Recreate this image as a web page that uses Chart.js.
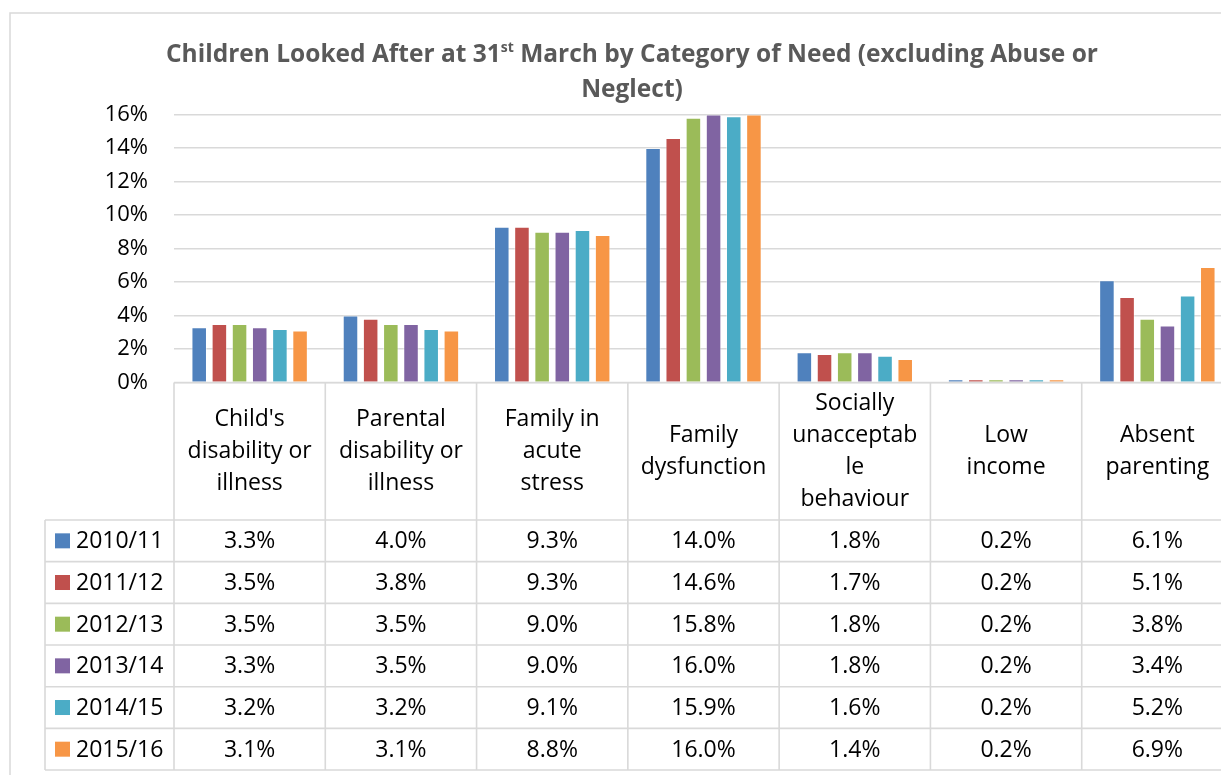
<!DOCTYPE html>
<html>
<head>
<meta charset="utf-8">
<script src="https://cdn.jsdelivr.net/npm/chart.js@4/dist/chart.umd.min.js"></script>
<style>
  html, body { margin: 0; padding: 0; background: #fff; overflow: hidden; }
  #wrap { position: relative; width: 1260px; height: 800px; }
  #c { position: absolute; left: 0; top: 0; }
  #title {
    position: absolute; left: 10px; top: 35px; width: 1244px;
    text-align: center; font-family: "Open Sans", sans-serif; font-weight: 700;
    font-size: 24.5px; line-height: 35px; color: #595959;
  }
  #title sup { font-size: 14px; line-height: 0; vertical-align: 10px; }
</style>
</head>
<body>
<div id="wrap">
  <canvas id="c" width="1260" height="800"></canvas>
  <div id="title">Children Looked After at 31<sup>st</sup> March by Category of Need (excluding Abuse or<br>Neglect)</div>
</div>
<script>
// Categories of need (multi-line header labels)
const categories = [
  ["Child's", "disability or", "illness"],
  ["Parental", "disability or", "illness"],
  ["Family in", "acute", "stress"],
  ["Family", "dysfunction"],
  ["Socially", "unacceptab", "le", "behaviour"],
  ["Low", "income"],
  ["Absent", "parenting"]
];

// Years (series names)
const years = ["2010/11", "2011/12", "2012/13", "2013/14", "2014/15", "2015/16"];

// Percentage of children looked after, per year, per category
const y2010_11 = [3.3, 4.0, 9.3, 14.0, 1.8, 0.2, 6.1];
const y2011_12 = [3.5, 3.8, 9.3, 14.6, 1.7, 0.2, 5.1];
const y2012_13 = [3.5, 3.5, 9.0, 15.8, 1.8, 0.2, 3.8];
const y2013_14 = [3.3, 3.5, 9.0, 16.0, 1.8, 0.2, 3.4];
const y2014_15 = [3.2, 3.2, 9.1, 15.9, 1.6, 0.2, 5.2];
const y2015_16 = [3.1, 3.1, 8.8, 16.0, 1.4, 0.2, 6.9];

// Value axis ticks
const yTicks = [0, 2, 4, 6, 8, 10, 12, 14, 16];

const seriesValues = [y2010_11, y2011_12, y2012_13, y2013_14, y2014_15, y2015_16];
const colors = ["#4F81BD", "#C0504D", "#9BBB59", "#8064A2", "#4BACC6", "#F79646"];

const FONT = '"Open Sans", sans-serif';
const GRID = "#d9d9d9";
const TEXT = "#000000";

// Layout of the data table below the plot
const TABLE = {
  headerBottom: 520,
  rowHeight: 41.67,
  legendLeft: 45,
  markerX: 55,
  markerSize: 15,
  labelX: 76
};

const framePlugin = {
  id: "frame",
  beforeDraw(chart) {
    const ctx = chart.ctx;
    ctx.save();
    ctx.fillStyle = "#fff";
    ctx.fillRect(0, 0, chart.width, chart.height);
    ctx.strokeStyle = GRID;
    ctx.lineWidth = 1.5;
    ctx.strokeRect(10, 13, chart.width - 14, chart.height - 4);
    ctx.restore();
  }
};

const dataTablePlugin = {
  id: "dataTable",
  afterDraw(chart) {
    const ctx = chart.ctx;
    const x = chart.scales.x;
    const area = chart.chartArea;
    const n = categories.length;
    const colW = (area.right - area.left) / n;
    const top = area.bottom;
    const hb = TABLE.headerBottom;
    const rh = TABLE.rowHeight;
    const bottom = hb + rh * years.length;

    ctx.save();
    ctx.strokeStyle = GRID;
    ctx.lineWidth = 1.6;
    // horizontal rules
    ctx.beginPath();
    ctx.moveTo(area.left, top); ctx.lineTo(area.right, top);
    for (let r = 0; r <= years.length; r++) {
      const y = hb + r * rh;
      ctx.moveTo(TABLE.legendLeft, y); ctx.lineTo(area.right, y);
    }
    // vertical rules
    ctx.moveTo(TABLE.legendLeft, hb); ctx.lineTo(TABLE.legendLeft, bottom);
    for (let i = 0; i <= n; i++) {
      const vx = area.left + i * colW;
      ctx.moveTo(vx, top); ctx.lineTo(vx, bottom);
    }
    ctx.stroke();

    ctx.fillStyle = TEXT;
    ctx.font = "23px " + FONT;
    ctx.textBaseline = "middle";
    ctx.textAlign = "center";

    // category headers
    const lineH = 32;
    const hc = (top + hb) / 2;
    categories.forEach((lines, i) => {
      const cx = x.getPixelForValue(i);
      const y0 = hc - (lines.length - 1) * lineH / 2;
      lines.forEach((t, k) => ctx.fillText(t, cx, y0 + k * lineH));
    });

    // rows: legend key + values
    years.forEach((yr, r) => {
      const cy = hb + r * rh + rh / 2;
      ctx.fillStyle = colors[r];
      ctx.fillRect(TABLE.markerX, cy - TABLE.markerSize / 2, TABLE.markerSize, TABLE.markerSize);
      ctx.fillStyle = TEXT;
      ctx.textAlign = "left";
      ctx.fillText(yr, TABLE.labelX, cy + 1);
      ctx.textAlign = "center";
      seriesValues[r].forEach((v, i) => {
        ctx.fillText(v.toFixed(1) + "%", x.getPixelForValue(i), cy + 1);
      });
    });
    ctx.restore();
  }
};

new Chart(document.getElementById("c"), {
  type: "bar",
  data: {
    labels: categories,
    datasets: years.map((yr, i) => ({
      label: yr,
      data: seriesValues[i],
      backgroundColor: colors[i],
      borderColor: "rgba(255,255,255,0.45)",
      borderWidth: 1,
      categoryPercentage: 0.8,
      barPercentage: 0.77
    }))
  },
  options: {
    responsive: false,
    animation: false,
    devicePixelRatio: 1,
    layout: { padding: { left: 0, right: 27, top: 114.5, bottom: 417.5 } },
    plugins: {
      legend: { display: false },
      title: { display: false },
      tooltip: { enabled: false }
    },
    scales: {
      x: { display: false },
      y: {
        min: yTicks[0],
        max: yTicks[yTicks.length - 1],
        afterBuildTicks(scale) { scale.ticks = yTicks.map(v => ({ value: v })); },
        afterFit(scale) { scale.width = 174; },
        ticks: {
          callback: v => v + "%",
          color: TEXT,
          font: { family: FONT, size: 22 },
          padding: 26
        },
        grid: { color: GRID, lineWidth: 1.5, drawTicks: false },
        border: { display: false }
      }
    }
  },
  plugins: [framePlugin, dataTablePlugin]
});
</script>
</body>
</html>
